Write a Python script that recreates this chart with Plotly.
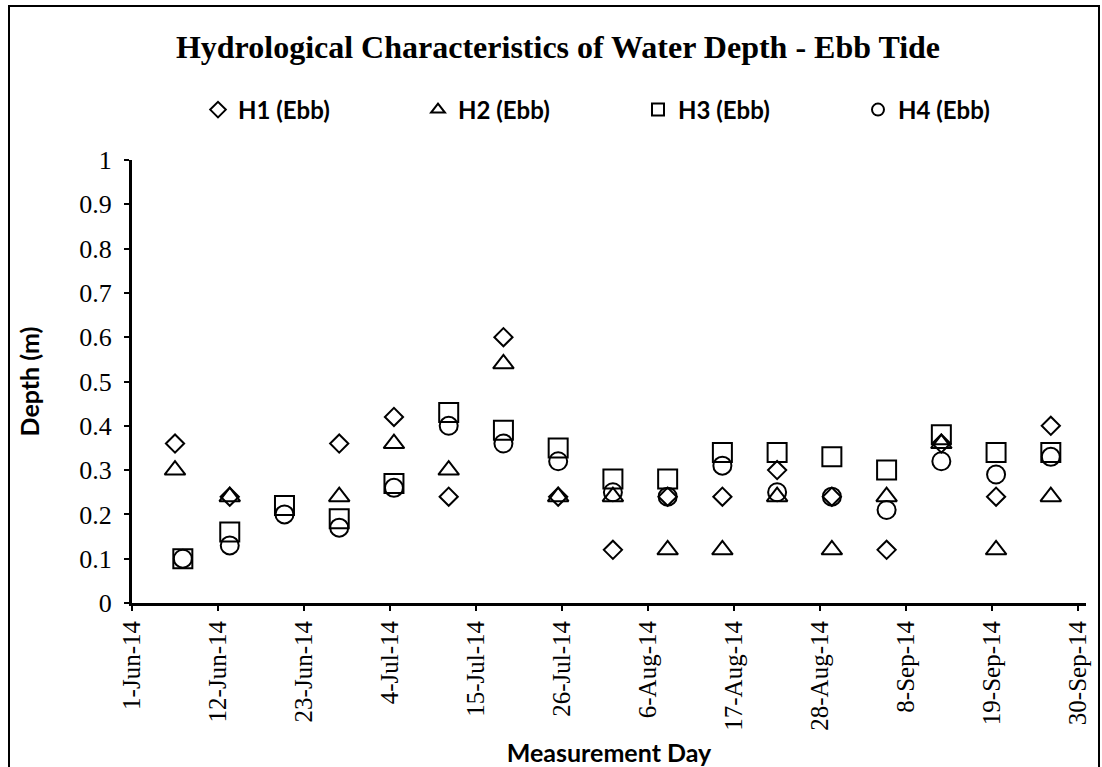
import plotly.graph_objects as go

# ---- data ----
h12_dates = ["2014-06-06 12:00", "2014-06-13 12:00", "2014-06-27 12:00", "2014-07-04 12:00",
             "2014-07-11 12:00", "2014-07-18 12:00", "2014-07-25 12:00", "2014-08-01 12:00",
             "2014-08-08 12:00", "2014-08-15 12:00", "2014-08-22 12:00", "2014-08-29 12:00",
             "2014-09-05 12:00", "2014-09-12 12:00", "2014-09-19 12:00", "2014-09-26 12:00"]
h1_depth = [0.36, 0.24, 0.36, 0.42, 0.24, 0.60, 0.24, 0.12, 0.24, 0.24, 0.30, 0.24, 0.12, 0.36, 0.24, 0.40]
h2_depth = [0.30, 0.24, 0.24, 0.36, 0.30, 0.54, 0.24, 0.24, 0.12, 0.12, 0.24, 0.12, 0.24, 0.36, 0.12, 0.24]

h34_dates = ["2014-06-07 12:00", "2014-06-13 12:00", "2014-06-20 12:00", "2014-06-27 12:00",
             "2014-07-04 12:00", "2014-07-11 12:00", "2014-07-18 12:00", "2014-07-25 12:00",
             "2014-08-01 12:00", "2014-08-08 12:00", "2014-08-15 12:00", "2014-08-22 12:00",
             "2014-08-29 12:00", "2014-09-05 12:00", "2014-09-12 12:00", "2014-09-19 12:00",
             "2014-09-26 12:00"]
h3_depth = [0.10, 0.16, 0.22, 0.19, 0.27, 0.43, 0.39, 0.35, 0.28, 0.28, 0.34, 0.34, 0.33, 0.30, 0.38, 0.34, 0.34]
h4_depth = [0.10, 0.13, 0.20, 0.17, 0.26, 0.40, 0.36, 0.32, 0.25, 0.24, 0.31, 0.25, 0.24, 0.21, 0.32, 0.29, 0.33]

series_names = ["H1 (Ebb)", "H2 (Ebb)", "H3 (Ebb)", "H4 (Ebb)"]

x_tick_vals = ["2014-06-01", "2014-06-12", "2014-06-23", "2014-07-04", "2014-07-15", "2014-07-26",
               "2014-08-06", "2014-08-17", "2014-08-28", "2014-09-08", "2014-09-19", "2014-09-30"]
x_tick_text = ["1-Jun-14", "12-Jun-14", "23-Jun-14", "4-Jul-14", "15-Jul-14", "26-Jul-14",
               "6-Aug-14", "17-Aug-14", "28-Aug-14", "8-Sep-14", "19-Sep-14", "30-Sep-14"]
y_tick_vals = [0, 0.1, 0.2, 0.3, 0.4, 0.5, 0.6, 0.7, 0.8, 0.9, 1]
y_tick_text = ["0", "0.1", "0.2", "0.3", "0.4", "0.5", "0.6", "0.7", "0.8", "0.9", "1"]

# ---- figure ----
W, H = 1102, 767
ML, MR, MT, MB = 132, 16, 160, 164

fig = go.Figure()
specs = [
    (h12_dates, h1_depth, "diamond-open", 14),
    (h12_dates, h2_depth, "triangle-up-open", 18),
    (h34_dates, h3_depth, "square-open", 19),
    (h34_dates, h4_depth, "circle-open", 18),
]
for name, (xs, ys, sym, sz) in zip(series_names, specs):
    fig.add_trace(go.Scatter(
        x=xs, y=ys, mode="markers", name=name,
        marker=dict(symbol=sym, size=sz, color="black", line=dict(color="black", width=2)),
    ))

serif = "Liberation Serif, Times New Roman, serif"
sans = "Lato, sans-serif"

fig.update_layout(
    width=W, height=H,
    margin=dict(l=ML, r=MR, t=MT, b=MB, pad=0, autoexpand=False),
    paper_bgcolor="white", plot_bgcolor="white",
    showlegend=True,
    title=dict(
        text="<b>Hydrological Characteristics of Water Depth - Ebb Tide</b>",
        font=dict(family=serif, size=32, color="black"),
        x=558 / W, xanchor="center", xref="container",
        y=1 - 47 / H, yanchor="middle", yref="container",
    ),
    legend=dict(
        orientation="h",
        xref="container", yref="container",
        x=198 / W, xanchor="left",
        y=1 - 110 / H, yanchor="middle",
        font=dict(family=sans, size=24, color="black", weight="bold"),
        itemsizing="constant",
        entrywidth=175, entrywidthmode="pixels",
        bgcolor="rgba(0,0,0,0)",
    ),
    xaxis=dict(
        type="date",
        automargin=False,
        range=["2014-06-01", "2014-10-01"],
        tickvals=x_tick_vals, ticktext=x_tick_text,
        tickangle=-90,
        tickfont=dict(family=serif, size=25, color="black"),
        ticks="outside", ticklen=5, tickwidth=2, tickcolor="black",
        showline=True, linecolor="black", linewidth=3,
        showgrid=False, zeroline=False,
        title=dict(text="<b>Measurement Day</b>",
                   font=dict(family=sans, size=25, color="black"),
                   standoff=24),
    ),
    yaxis=dict(
        automargin=False,
        range=[0, 1],
        tickvals=y_tick_vals, ticktext=y_tick_text,
        tickfont=dict(family=serif, size=26, color="black"),
        ticks="outside", ticklen=5, tickwidth=2, tickcolor="black",
        ticklabelstandoff=7,
        showline=True, linecolor="black", linewidth=3,
        showgrid=False, zeroline=False,
        title=dict(text="<b>Depth (m)</b>",
                   font=dict(family=sans, size=25, color="black"),
                   standoff=33),
    ),
)

# outer chart-area frame
pw = W - ML - MR
ph = H - MT - MB
def px_to_paper_x(px):
    return (px - ML) / pw
def px_to_paper_y(py):
    return (H - MB - py) / ph
fig.add_shape(type="rect", xref="paper", yref="paper",
              x0=px_to_paper_x(9), x1=px_to_paper_x(1099),
              y0=px_to_paper_y(772), y1=px_to_paper_y(6),
              line=dict(color="black", width=2), fillcolor="rgba(0,0,0,0)", layer="below")

fig.write_html("out.html", config={"displayModeBar": False},
               post_script="document.body.style.margin='0';document.body.style.overflow='hidden';")
